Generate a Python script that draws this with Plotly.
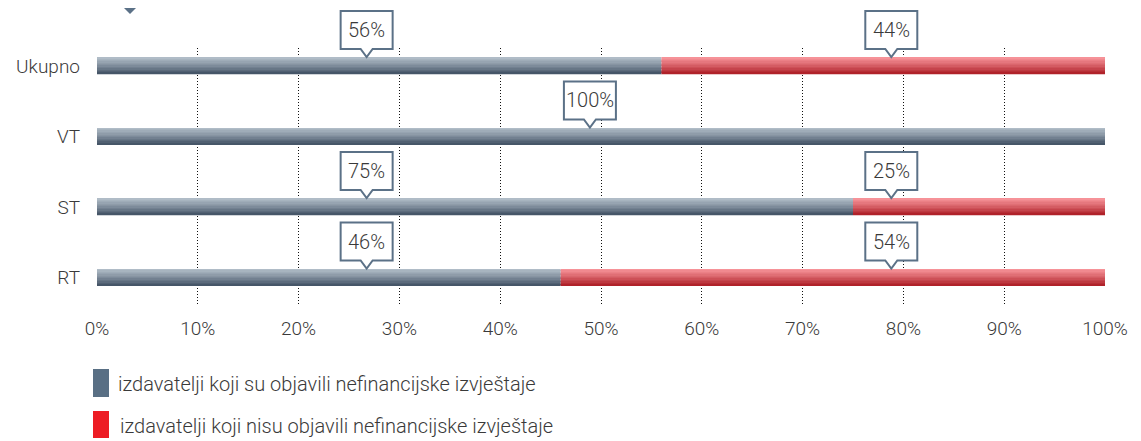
import plotly.graph_objects as go

categories = ["Ukupno", "VT", "ST", "RT"]
objavili = [56, 100, 75, 46]
nisu_objavili = [44, 0, 25, 54]
series_names = [
    "izdavatelji koji su objavili nefinancijske izvještaje",
    "izdavatelji koji nisu objavili nefinancijske izvještaje",
]
# where the speech-bubble labels point to (percent along axis)
label_pos_gray = [26.75, 48.9, 26.75, 26.75]
label_pos_red = [78.8, 78.8, 78.8, 78.8]

GRAY_TOP, GRAY_BOT = (176, 188, 199), (70, 86, 104)
RED_TOP, RED_BOT = (246, 146, 152), (176, 34, 42)
EDGE = "#5b7187"
FONT = "Roboto"
TXT = "#3a3a3a"
Y_RANGE = [3.39, -0.255]


def lerp(c1, c2, t):
    mid = [int(a + (b - a) * t) for a, b in zip(c1, c2)]
    return "rgb(%d,%d,%d)" % tuple(mid)


def grad(top, bot, t):
    mid = tuple(int(a + (b - a) * 0.42) for a, b in zip(top, bot))
    if t < 0.5:
        return lerp(top, mid, t / 0.5)
    return lerp(mid, bot, (t - 0.5) / 0.5)


fig = go.Figure()
bar_w = 0.234
n = 12
dw = bar_w / n
for i in range(n):
    t = i / (n - 1)
    fig.add_trace(go.Bar(
        y=categories, x=objavili, orientation="h",
        width=dw * 1.05, offset=-bar_w / 2 + i * dw,
        marker=dict(color=grad(GRAY_TOP, GRAY_BOT, t), line=dict(width=0)),
        showlegend=False, hoverinfo="skip",
    ))
    fig.add_trace(go.Bar(
        y=categories, x=nisu_objavili, base=objavili, orientation="h",
        width=dw * 1.05, offset=-bar_w / 2 + i * dw,
        marker=dict(color=grad(RED_TOP, RED_BOT, t), line=dict(width=0)),
        showlegend=False, hoverinfo="skip",
    ))

bubble = "M -26,17 L -6,17 L 0,9 L 6,17 L 26,17 L 26,55 L -26,55 Z"
shapes = []
annotations = []
for k, (cat, g, r, gx, rx) in enumerate(zip(categories, objavili, nisu_objavili,
                                             label_pos_gray, label_pos_red)):
    # category position as a fraction of the y domain (so shape isn't clipped vertically)
    yfrac = (Y_RANGE[0] - k) / (Y_RANGE[0] - Y_RANGE[1])
    for val, px in ((g, gx), (r, rx)):
        if val <= 0:
            continue
        shapes.append(dict(
            type="path", xref="x", yref="y domain", xsizemode="pixel", ysizemode="pixel",
            xanchor=px, yanchor=yfrac, path=bubble,
            fillcolor="white", line=dict(color=EDGE, width=2), layer="above",
        ))
        annotations.append(dict(
            x=px, y=cat, xref="x", yref="y", text=f"{val}%", showarrow=False,
            yshift=36, font=dict(family=FONT, size=20, color=TXT, weight=300),
        ))

# small marker at the top-left (clipped at the page top in the original)
shapes.append(dict(
    type="path", xref="paper", yref="paper", xsizemode="pixel", ysizemode="pixel",
    xanchor=(130 - 97) / 1008, yanchor=1 + 40 / 257,
    path="M -6,0 L 6,0 L 0,-6 Z", fillcolor=EDGE, line=dict(width=0),
))

# legend drawn by hand (tall swatches)
legend_colors = ["#596f84", "#ed1c24"]
legend_rows = [(369, 397, 116), (411, 438, 118)]
for name, col, (y0, y1, tx) in zip(series_names, legend_colors, legend_rows):
    shapes.append(dict(
        type="rect", xref="paper", yref="paper",
        x0=(93 - 97) / 1008, x1=(109 - 97) / 1008,
        y0=(305 - y1) / 257, y1=(305 - y0) / 257,
        fillcolor=col, line=dict(width=0),
    ))
    annotations.append(dict(
        x=(tx - 97) / 1008, y=(305 - (y0 + y1) / 2 - 1) / 257, xref="paper", yref="paper",
        text=name, showarrow=False, xanchor="left", yanchor="middle",
        font=dict(family=FONT, size=20, color=TXT, weight=300),
    ))

# page body has an 8px margin, so the figure is sized/offset to compensate
fig.update_layout(
    barmode="overlay",
    width=1133, height=433,
    margin=dict(l=89, r=36, t=40, b=136),
    plot_bgcolor="white", paper_bgcolor="white",
    font=dict(family=FONT, size=19, color=TXT, weight=300),
    shapes=shapes, annotations=annotations,
    showlegend=False,
)
fig.update_xaxes(
    range=[0, 100], dtick=10, ticksuffix="%", showgrid=True,
    gridcolor="#111111", griddash="1px,2px", gridwidth=1, zeroline=False,
    showline=False, ticks="", ticklabelstandoff=10, automargin=False,
    tickfont=dict(family=FONT, size=19, color=TXT, weight=300),
)
fig.update_yaxes(
    type="category", categoryorder="array", categoryarray=categories,
    range=Y_RANGE, showgrid=False, zeroline=False, showline=False,
    ticks="", ticklabelstandoff=16, automargin=False,
    tickfont=dict(family=FONT, size=19, color=TXT, weight=300),
)

fig.write_html("out.html")
